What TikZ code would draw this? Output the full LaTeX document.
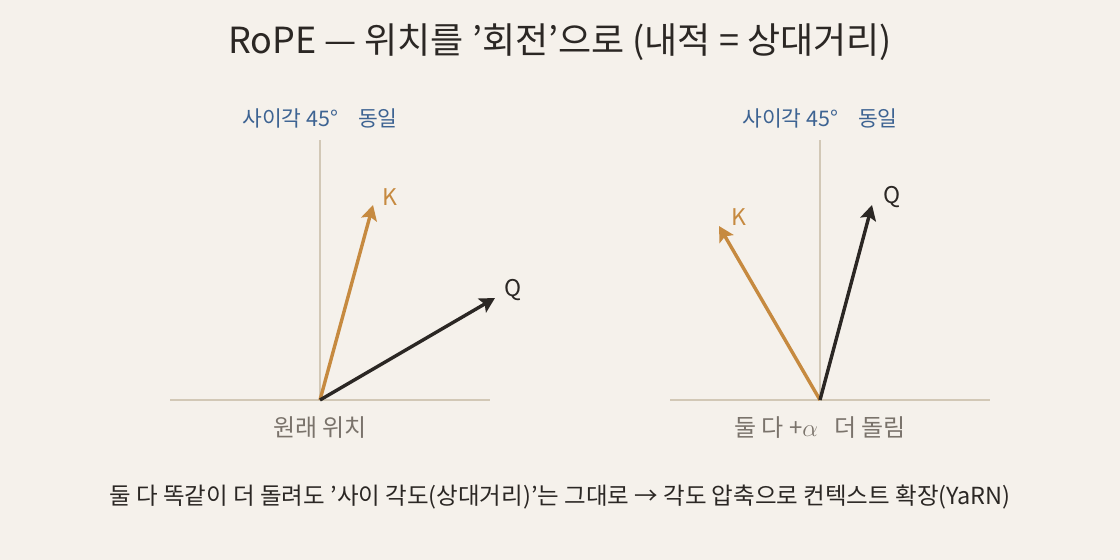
\documentclass[tikz,border=0pt]{standalone}
\usepackage{fontspec}
\setmainfont{Noto Sans CJK KR}
\usetikzlibrary{arrows.meta}
\definecolor{bgc}{HTML}{F5F1EB}
\definecolor{goldc}{HTML}{C68A40}
\definecolor{darkc}{HTML}{2B2724}
\definecolor{bluec}{HTML}{3D6392}
\definecolor{grayc}{HTML}{7A736B}
\definecolor{axisc}{HTML}{D2C8B6}
\tikzset{
  axisline/.style={draw=axisc, line width=1.2pt},
  vecgold/.style={draw=goldc, line width=3.4pt, -{Stealth[length=15pt,width=16pt,inset=3pt]}},
  vecdark/.style={draw=darkc, line width=3.4pt, -{Stealth[length=15pt,width=16pt,inset=3pt]}},
  veclabgold/.style={text=goldc, font=\fontsize{23}{27}\selectfont},
  veclabdark/.style={text=darkc, font=\fontsize{23}{27}\selectfont},
  toplab/.style={text=bluec, font=\fontsize{21.5}{25}\selectfont},
  botlab/.style={text=grayc, font=\fontsize{24}{28}\selectfont},
}
\begin{document}
\begin{tikzpicture}[x=1pt,y=-1pt]
\useasboundingbox[fill=bgc] (0,0) rectangle (1120,560);
\node[text=darkc, font=\fontsize{36}{42}\selectfont] (title) at (560,42) {RoPE — 위치를 ’회전’으로 (내적 = 상대거리)};
% left panel
\coordinate (lo) at (320,400);
\coordinate (lh1) at (170,400);
\coordinate (lh2) at (490,400);
\coordinate (lv) at (320,140);
\draw[axisline] (lh1) -- (lh2);
\draw[axisline] (lo) -- (lv);
\coordinate (lk) at (373,205);
\coordinate (lq) at (495,298);
\draw[vecgold] (lo) -- (lk);
\draw[vecdark] (lo) -- (lq);
\node[veclabgold] (lkl) at (390,197) {K};
\node[veclabdark] (lql) at (513,290) {Q};
\node[toplab] (ltop) at (320,118) {사이각 45°\hspace{20pt}동일};
\node[botlab] (lbot) at (320,428) {원래 위치};
% right panel
\coordinate (ro) at (820,400);
\coordinate (rh1) at (670,400);
\coordinate (rh2) at (990,400);
\coordinate (rv) at (820,140);
\draw[axisline] (rh1) -- (rh2);
\draw[axisline] (ro) -- (rv);
\coordinate (rk) at (719,226);
\coordinate (rq) at (872,205);
\draw[vecgold] (ro) -- (rk);
\draw[vecdark] (ro) -- (rq);
\node[veclabgold] (rkl) at (739,217) {K};
\node[veclabdark] (rql) at (892,197) {Q};
\node[toplab] (rtop) at (820,118) {사이각 45°\hspace{20pt}동일};
\node[botlab] (rbot) at (820,428) {둘 다 +$\alpha$\hspace{16pt}더 돌림};
% bottom note
\node[text=darkc, font=\fontsize{23.5}{28}\selectfont] (note) at (560,497) {둘 다 똑같이 더 돌려도 ’사이 각도(상대거리)’는 그대로 → 각도 압축으로 컨텍스트 확장(YaRN)};
\end{tikzpicture}
\end{document}
